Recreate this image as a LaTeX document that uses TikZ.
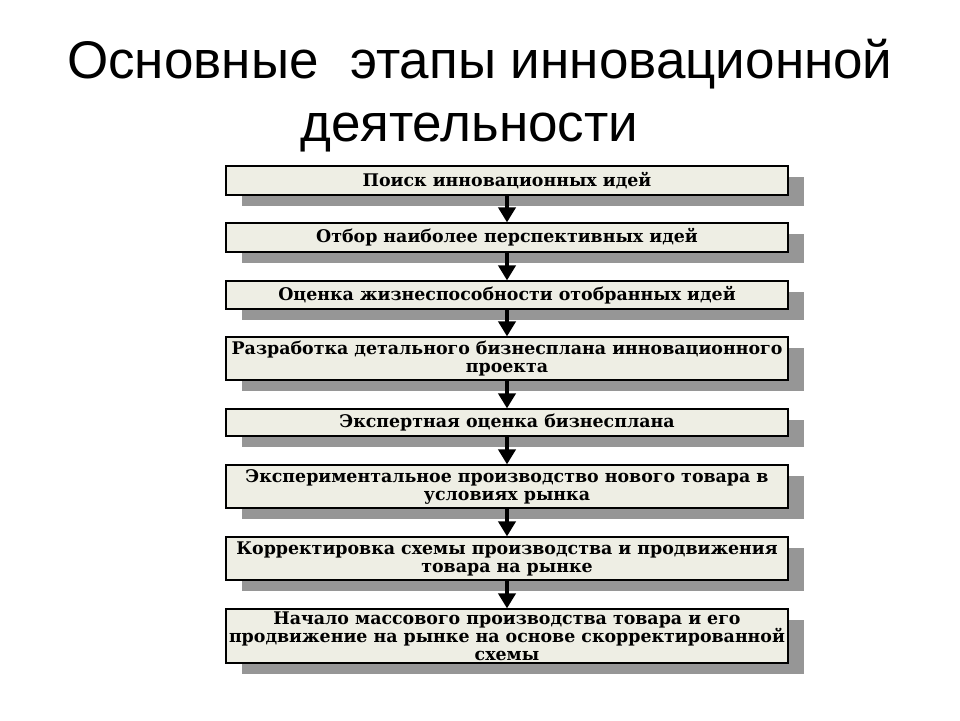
\documentclass[tikz,border=0pt]{standalone}
\usepackage{fontspec}
\usetikzlibrary{arrows.meta,shadows}
\newfontfamily\titlefont{Liberation Sans}
\newfontfamily\boxfont{DejaVu Serif}
\definecolor{boxfill}{RGB}{238,238,228}
\definecolor{shadowgray}{RGB}{150,150,150}
\tikzset{
  stepbox/.style={draw=black, line width=1.2pt, fill=boxfill, minimum width=562pt,
    inner sep=0pt, align=center,
    font=\boxfont\bfseries\fontsize{17.4}{18}\selectfont,
    drop shadow={shadow xshift=16pt, shadow yshift=-11pt, fill=shadowgray, opacity=1}},
  flow/.style={line width=4pt, -{Triangle[width=17pt,length=15pt]}},
  titletext/.style={anchor=base west, inner sep=0pt, font=\titlefont\fontsize{53}{60}\selectfont}
}
\begin{document}
\begin{tikzpicture}[x=1pt,y=-1pt]
\fill[white] (0,0) rectangle (960,720);
\useasboundingbox (0,0) rectangle (960,720);
\node[titletext] (t1) at (67,78) {Основные\hspace{17pt} этапы инновационной};
\node[titletext] (t2) at (300,141) {деятельности};
\node[stepbox, minimum height=29pt] (b1) at (507,180.5) {Поиск инновационных идей};
\node[stepbox, minimum height=29pt] (b2) at (507,237.5) {Отбор наиболее перспективных идей};
\node[stepbox, minimum height=28pt] (b3) at (507,295) {Оценка жизнеспособности отобранных идей};
\node[stepbox, minimum height=43pt] (b4) at (507,358.5) {Разработка детального бизнесплана инновационного\\проекта};
\node[stepbox, minimum height=27pt] (b5) at (507,422.5) {Экспертная оценка бизнесплана};
\node[stepbox, minimum height=43pt] (b6) at (507,486.5) {Экспериментальное производство нового товара в\\условиях рынка};
\node[stepbox, minimum height=43pt] (b7) at (507,558.5) {Корректировка схемы производства и продвижения\\товара на рынке};
\node[stepbox, minimum height=54pt] (b8) at (507,636) {Начало массового производства товара и его\\продвижение на рынке на основе скорректированной\\схемы};
\foreach \a/\b in {b1/b2,b2/b3,b3/b4,b4/b5,b5/b6,b6/b7,b7/b8}
  \draw[flow] (\a.south) -- (\b.north);
\end{tikzpicture}
\end{document}
